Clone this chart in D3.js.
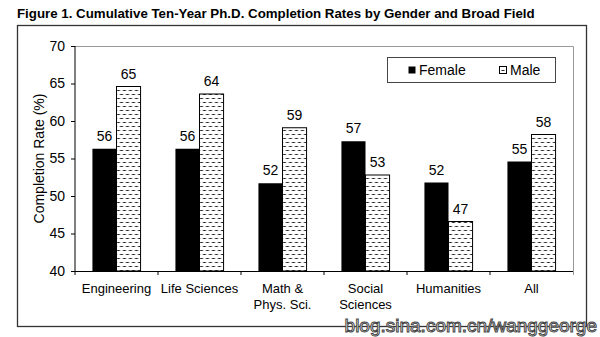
<!DOCTYPE html>
<html>
<head>
<meta charset="utf-8">
<script src="https://cdn.jsdelivr.net/npm/d3@7"></script>
<style>
  body { margin: 0; background: #fff; }
  svg { display: block; font-family: "Liberation Sans", Arial, sans-serif; }
</style>
</head>
<body>
<svg id="chart" width="600" height="337"></svg>
<script>
const fields = ["Engineering", "Life Sciences", "Math &\nPhys. Sci.", "Social\nSciences", "Humanities", "All"];
const female = [56.3, 56.3, 51.7, 57.3, 51.8, 54.6];
const male = [64.6, 63.6, 59.1, 52.8, 46.6, 58.2];
const yTicks = [40, 45, 50, 55, 60, 65, 70];
const seriesNames = ["Female", "Male"];

const svg = d3.select("#chart");
const plot = { left: 75, right: 573, top: 46, bottom: 271 };

// hatched fill used for the male bars
const defs = svg.append("defs");
const pat = defs.append("pattern")
    .attr("id", "dash")
    .attr("patternUnits", "userSpaceOnUse")
    .attr("width", 6).attr("height", 8);
pat.append("rect").attr("width", 6).attr("height", 8).attr("fill", "#fff");
pat.append("line").attr("x1", 0.5).attr("x2", 3.5).attr("y1", 2.5).attr("y2", 2.5)
    .attr("stroke", "#222").attr("stroke-width", 1);
pat.append("line").attr("x1", 3.5).attr("x2", 6).attr("y1", 6.5).attr("y2", 6.5)
    .attr("stroke", "#222").attr("stroke-width", 1);
pat.append("line").attr("x1", 0).attr("x2", 0.5).attr("y1", 6.5).attr("y2", 6.5)
    .attr("stroke", "#222").attr("stroke-width", 1);

// title + outer frame
svg.append("text")
    .attr("x", 17).attr("y", 18)
    .attr("font-size", 13.3).attr("font-weight", "bold")
    .text("Figure 1. Cumulative Ten-Year Ph.D. Completion Rates by Gender and Broad Field");

svg.append("rect")
    .attr("x", 17.5).attr("y", 25.5)
    .attr("width", 569).attr("height", 301)
    .attr("fill", "none").attr("stroke", "#333").attr("stroke-width", 1.3);

const x0 = d3.scaleBand()
    .domain(fields)
    .range([plot.left, plot.right])
    .paddingInner(0.42)
    .paddingOuter(0.21);

const x1 = d3.scaleBand()
    .domain(seriesNames)
    .range([0, x0.bandwidth()]);

const y = d3.scaleLinear()
    .domain([40, 70])
    .range([plot.bottom, plot.top]);

// light border on top and right of the plot area
svg.append("path")
    .attr("d", `M${plot.left},${plot.top + 0.5}H${plot.right + 0.5}V${plot.bottom + 4}`)
    .attr("fill", "none").attr("stroke", "#999");

const rows = fields.map((f, i) => ({ field: f, values: [female[i], male[i]] }));

const groups = svg.append("g").selectAll("g")
    .data(rows)
    .join("g")
    .attr("transform", d => `translate(${x0(d.field)},0)`);

groups.selectAll("rect")
    .data(d => d.values.map((v, k) => ({ name: seriesNames[k], v })))
    .join("rect")
    .attr("x", d => x1(d.name))
    .attr("y", d => y(d.v))
    .attr("width", x1.bandwidth())
    .attr("height", d => y(40) - y(d.v))
    .attr("fill", d => d.name === "Female" ? "#000" : "url(#dash)")
    .attr("stroke", "#000")
    .attr("stroke-width", d => d.name === "Female" ? 0 : 1);

groups.selectAll("text")
    .data(d => d.values.map((v, k) => ({ name: seriesNames[k], v })))
    .join("text")
    .attr("x", d => x1(d.name) + x1.bandwidth() / 2)
    .attr("y", d => y(d.v) - 8)
    .attr("text-anchor", "middle")
    .attr("font-size", 14)
    .text(d => Math.round(d.v));

// y axis
const yAxis = svg.append("g")
    .attr("transform", `translate(${plot.left},0)`)
    .call(d3.axisLeft(y).tickValues(yTicks).tickSize(4).tickPadding(6));
yAxis.select(".domain").attr("stroke", "#000").attr("d", `M0,${plot.top}V${plot.bottom + 4}`);
yAxis.selectAll("text").attr("font-size", 14).attr("font-family", "Liberation Sans, Arial, sans-serif").attr("fill", "#000");

svg.append("text")
    .attr("transform", `translate(44,${(plot.top + plot.bottom) / 2}) rotate(-90)`)
    .attr("text-anchor", "middle")
    .attr("font-size", 14)
    .text("Completion Rate (%)");

// x axis: baseline, ticks between groups, two-line labels
const step = x0.step();
const bounds = d3.range(fields.length + 1).map(i => plot.left + i * step);
const xAxis = svg.append("g");
xAxis.append("line")
    .attr("x1", plot.left).attr("x2", plot.right)
    .attr("y1", plot.bottom + 0.5).attr("y2", plot.bottom + 0.5)
    .attr("stroke", "#000");
xAxis.selectAll(".tick")
    .data(bounds.slice(1, -1))
    .join("line")
    .attr("x1", d => d).attr("x2", d => d)
    .attr("y1", plot.bottom).attr("y2", plot.bottom + 4)
    .attr("stroke", "#000");

xAxis.selectAll(".lbl")
    .data(fields)
    .join("text")
    .attr("text-anchor", "middle")
    .attr("font-size", 13)
    .attr("y", 293)
    .each(function (d) {
        const t = d3.select(this);
        d.split("\n").forEach((line, i) => {
            t.append("tspan")
                .attr("x", x0(d) + x0.bandwidth() / 2)
                .attr("dy", i === 0 ? 0 : 16)
                .text(line);
        });
    });

// legend
const lg = svg.append("g");
lg.append("rect")
    .attr("x", 387.5).attr("y", 57.5).attr("width", 168).attr("height", 25)
    .attr("fill", "#fff").attr("stroke", "#444");
const legendX = [408, 499];
seriesNames.forEach((name, k) => {
    lg.append("rect")
        .attr("x", legendX[k] + 0.5).attr("y", 66.5).attr("width", 7).attr("height", 7)
        .attr("fill", k === 0 ? "#000" : "url(#dash)")
        .attr("stroke", "#000").attr("stroke-width", k === 0 ? 0 : 1);
    lg.append("text")
        .attr("x", legendX[k] + 11).attr("y", 75)
        .attr("font-size", 14)
        .text(name);
});

// site watermark
svg.append("text")
    .attr("x", 597).attr("y", 332)
    .attr("text-anchor", "end")
    .attr("font-size", 19)
    .attr("fill", "#fff").attr("stroke", "#444").attr("stroke-width", 1)
    .text("blog.sina.com.cn/wanggeorge");
</script>
</body>
</html>
